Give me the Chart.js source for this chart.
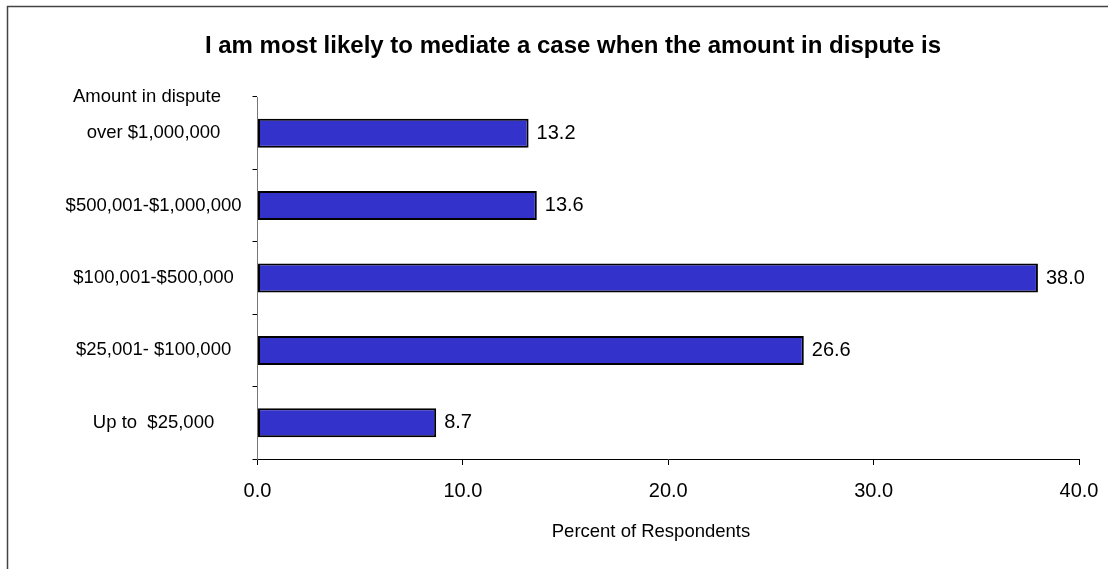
<!DOCTYPE html>
<html>
<head>
<meta charset="utf-8">
<script src="https://cdn.jsdelivr.net/npm/chart.js@4/dist/chart.umd.min.js"></script>
<style>
  html, body { margin: 0; padding: 0; background: #fff; }
  #wrap { width: 1108px; height: 569px; position: relative; }
</style>
</head>
<body>
<div id="wrap"><canvas id="c" width="1108" height="569"></canvas></div>
<script>
// Amount bands, top to bottom
const categories = ['over $1,000,000', '$500,001-$1,000,000', '$100,001-$500,000', '$25,001- $100,000', 'Up to  $25,000'];
// Percent of respondents for each band
const percents = [13.2, 13.6, 38.0, 26.6, 8.7];
// Value-axis ticks
const xTicks = [0, 10, 20, 30, 40];

const chartTitle = 'I am most likely to mediate a case when the amount in dispute is';
const yAxisCaption = 'Amount in dispute';
const xAxisCaption = 'Percent of Respondents';

const FONT = "'Liberation Sans', Arial, sans-serif";

// Frame, headings and value labels drawn on top of the chart
const decorations = {
  id: 'decorations',
  beforeDraw(chart) {
    const ctx = chart.ctx;
    ctx.save();
    ctx.fillStyle = '#fff';
    ctx.fillRect(0, 0, chart.width, chart.height);
    ctx.strokeStyle = '#444';
    ctx.lineWidth = 1.5;
    ctx.strokeRect(7.5, 6.5, chart.width + 20, chart.height + 20);
    ctx.restore();
  },
  afterDraw(chart) {
    const ctx = chart.ctx;
    const area = chart.chartArea;
    ctx.save();
    ctx.fillStyle = '#000';
    ctx.textBaseline = 'middle';

    ctx.font = 'bold 24px ' + FONT;
    ctx.textAlign = 'center';
    ctx.fillText(chartTitle, 573, 46);

    ctx.font = '18.5px ' + FONT;
    ctx.fillText(yAxisCaption, 147, area.top);
    ctx.fillText(xAxisCaption, 651, 532);

    ctx.font = '20px ' + FONT;
    ctx.textAlign = 'left';
    const meta = chart.getDatasetMeta(0);
    meta.data.forEach((bar, i) => {
      ctx.fillText(percents[i].toFixed(1), bar.x + 8, bar.y);
    });
    ctx.restore();
  }
};

new Chart(document.getElementById('c'), {
  type: 'bar',
  data: {
    labels: categories,
    datasets: [{
      data: percents,
      backgroundColor: '#3333CC',
      borderColor: '#000',
      borderWidth: 2,
      borderSkipped: false,
      barPercentage: 0.4,
      categoryPercentage: 1.0
    }]
  },
  options: {
    indexAxis: 'y',
    responsive: false,
    animation: false,
    layout: { padding: { top: 97, left: 38, right: 0, bottom: 0 } },
    plugins: {
      legend: { display: false },
      title: { display: false },
      tooltip: { enabled: false }
    },
    scales: {
      x: {
        min: 0,
        max: 40,
        afterBuildTicks(scale) {
          scale.ticks = xTicks.map(v => ({ value: v }));
        },
        afterFit(scale) {
          scale.height = 110;
          scale.paddingRight = 29;
          scale.paddingLeft = 0;
        },
        grid: {
          display: true,
          drawOnChartArea: false,
          drawTicks: true,
          tickLength: 6,
          tickColor: '#000'
        },
        border: { display: true, color: '#000', width: 1 },
        ticks: {
          color: '#000',
          font: { family: FONT, size: 20 },
          padding: 14,
          maxRotation: 0,
          callback: v => Number(v).toFixed(1)
        }
      },
      y: {
        afterFit(scale) {
          scale.width = 219.5;
          scale.paddingTop = 0;
          scale.paddingBottom = 0;
        },
        grid: {
          display: true,
          drawOnChartArea: false,
          drawTicks: true,
          tickLength: 5,
          tickColor: '#000',
          offset: true
        },
        border: { display: true, color: '#777', width: 1 },
        ticks: {
          color: '#000',
          font: { family: FONT, size: 18.5 },
          crossAlign: 'center',
          padding: 11
        }
      }
    }
  },
  plugins: [decorations]
});
</script>
</body>
</html>
